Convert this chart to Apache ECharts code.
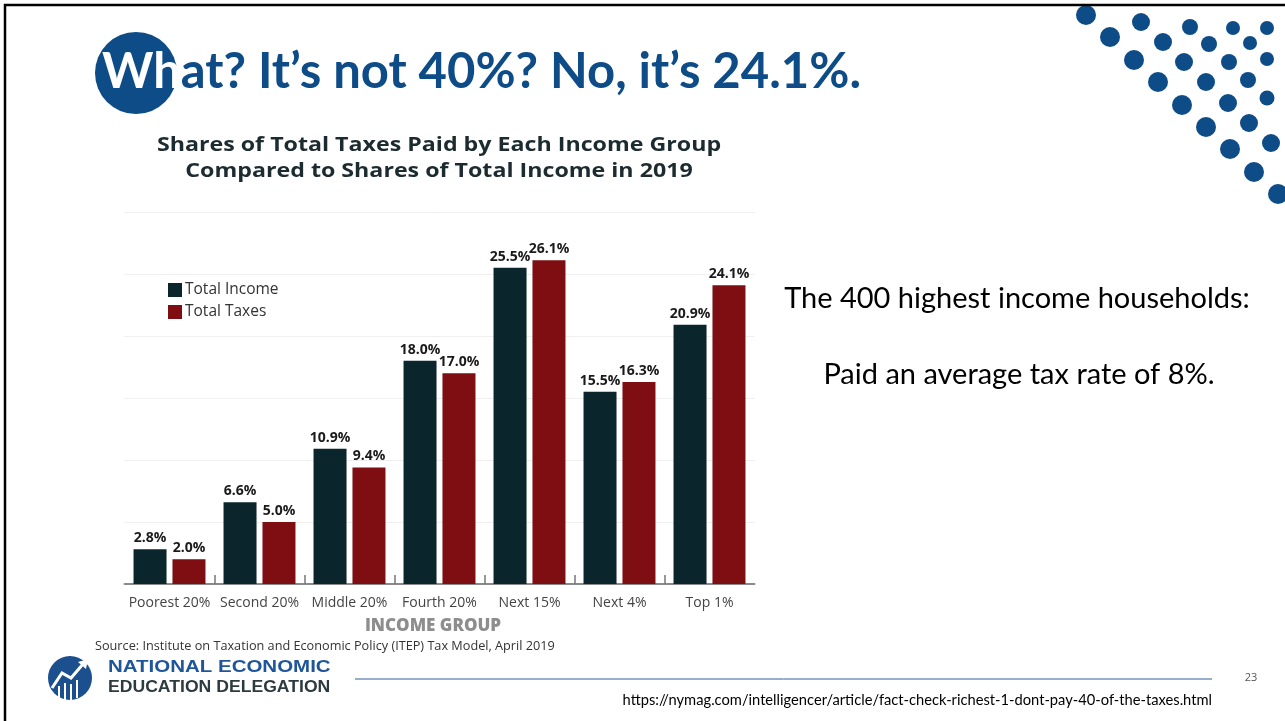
<!DOCTYPE html>
<html>
<head>
<meta charset="utf-8">
<style>
  html, body { margin: 0; padding: 0; background: #fff; }
  #chart { width: 1285px; height: 721px; }
</style>
<script src="https://cdn.jsdelivr.net/npm/echarts@6/dist/echarts.min.js"></script>
</head>
<body>
<div id="chart"></div>
<script>
// Income groups and their shares (%) of total income and total taxes, 2019
const categories = ['Poorest 20%', 'Second 20%', 'Middle 20%', 'Fourth 20%', 'Next 15%', 'Next 4%', 'Top 1%'];
const totalIncome = [2.8, 6.6, 10.9, 18.0, 25.5, 15.5, 20.9];
const totalTaxes  = [2.0, 5.0, 9.4, 17.0, 26.1, 16.3, 24.1];
const seriesNames = ['Total Income', 'Total Taxes'];

const BLUE = '#0e4c87';
const DARK = '#0b252c';
const RED = '#7e0e11';
const SANS = '"Open Sans", sans-serif';

// corner dot ornament: [cx, cy, r]
const dots = [
  [1086, 15, 10], [1141, 22, 9], [1190, 27, 8], [1233, 28, 7], [1267, 28, 7],
  [1110, 37, 10], [1163, 42, 9], [1209, 44, 8], [1250, 43, 7], [1267, 59, 7],
  [1134, 60, 10], [1184, 62, 9], [1229, 62, 8],
  [1158, 82, 10], [1206, 82, 9], [1248, 80, 8], [1267, 98, 7.5],
  [1182, 105, 10], [1228, 103, 9],
  [1206, 127, 10], [1249, 123, 9], [1271, 143, 9],
  [1230, 149, 10], [1254, 172, 10], [1278, 194, 10]
];

// category boundaries, used only to place the separator ticks on the baseline
const boundaries = categories.map((c, i) => String(i)).concat([String(categories.length)]);

const chart = echarts.init(document.getElementById('chart'), null, { renderer: 'canvas' });

const valueLabel = {
  show: true,
  position: 'top',
  distance: 4,
  formatter: p => p.value.toFixed(1) + '%',
  fontFamily: SANS,
  fontWeight: 'bold',
  fontSize: 14,
  color: '#1a1a1a'
};

function centeredText(x, y, text, font, fill, scaleX, align) {
  return {
    type: 'text', x: x, y: y, scaleX: scaleX || 1,
    style: { text: text, font: font, fill: fill, textAlign: align || 'center', textVerticalAlign: 'middle' }
  };
}

const graphics = [
  // slide frame
  { type: 'rect', shape: { x: 5, y: 5, width: 1400, height: 800 },
    style: { fill: 'none', stroke: '#000', lineWidth: 2.5 }, z: 10 },
  // heading badge
  { type: 'circle', shape: { cx: 136, cy: 73, r: 41 }, style: { fill: BLUE } },
  { type: 'text', x: 102, y: 72,
    style: {
      text: '{w|Wh}{b|at? It’s not 40%? No, it’s 24.1%.}',
      textVerticalAlign: 'middle',
      rich: {
        w: { fill: '#fff', fontFamily: 'Lato, sans-serif', fontWeight: 'bold', fontSize: 49 },
        b: { fill: BLUE, fontFamily: 'Lato, sans-serif', fontWeight: 'bold', fontSize: 49 }
      }
    } },
  // chart heading
  centeredText(439, 145, 'Shares of Total Taxes Paid by Each Income Group', 'bold 20px "Open Sans", sans-serif', '#1c2b30', 1.16),
  centeredText(439, 171, 'Compared to Shares of Total Income in 2019', 'bold 20px "Open Sans", sans-serif', '#1c2b30', 1.16),
  // axis caption and source
  centeredText(433, 626, 'INCOME GROUP', '800 17px "Open Sans", sans-serif', '#8d8d8d'),
  centeredText(95, 646, 'Source: Institute on Taxation and Economic Policy (ITEP) Tax Model, April 2019',
    '12.7px "Open Sans", sans-serif', '#333', 1, 'left'),
  // side notes
  centeredText(1017, 299, 'The 400 highest income households:', '29px Lato, sans-serif', '#000'),
  centeredText(1019, 375, 'Paid an average tax rate of 8%.', '29px Lato, sans-serif', '#000'),
  // footer
  { type: 'line', shape: { x1: 355, y1: 679, x2: 1212, y2: 679 }, style: { stroke: '#2f5f98', lineWidth: 1 } },
  centeredText(1251, 678, '23', '11px "Open Sans", sans-serif', '#555'),
  centeredText(1212, 700, 'https://nymag.com/intelligencer/article/fact-check-richest-1-dont-pay-40-of-the-taxes.html',
    '14.7px Lato, sans-serif', '#000', 1, 'right'),
  { type: 'text', x: 108, y: 668, scaleX: 1.28,
    style: { text: 'NATIONAL ECONOMIC', fill: '#1f559a', font: 'bold 16px "Liberation Sans", Arial, sans-serif',
      textAlign: 'left', textVerticalAlign: 'middle' } },
  { type: 'text', x: 108, y: 688, scaleX: 1.1,
    style: { text: 'EDUCATION DELEGATION', fill: '#2d3a40', font: 'bold 16px "Liberation Sans", Arial, sans-serif',
      textAlign: 'left', textVerticalAlign: 'middle' } },
  // logo emblem
  { type: 'circle', shape: { cx: 70, cy: 678, r: 22 }, style: { fill: '#1b4f8e' } },
  { type: 'polyline', shape: { points: [[52, 688], [62, 673], [71, 678], [83, 664]] },
    style: { stroke: '#fff', lineWidth: 3, fill: 'none' } },
  { type: 'polygon', shape: { points: [[78, 662], [88, 659], [86, 669]] }, style: { fill: '#fff' } },
  { type: 'rect', shape: { x: 58, y: 686, width: 2, height: 13 }, style: { fill: '#fff' } },
  { type: 'rect', shape: { x: 64, y: 683, width: 2, height: 17 }, style: { fill: '#fff' } },
  { type: 'rect', shape: { x: 70, y: 684, width: 2, height: 16 }, style: { fill: '#fff' } },
  { type: 'rect', shape: { x: 76, y: 680, width: 2, height: 18 }, style: { fill: '#fff' } }
];

dots.forEach(d => graphics.push({
  type: 'circle', shape: { cx: d[0], cy: d[1], r: d[2] }, style: { fill: BLUE }
}));

chart.setOption({
  animation: false,
  backgroundColor: '#fff',
  textStyle: { fontFamily: SANS },
  grid: { left: 124.5, right: 530.5, top: 212, bottom: 137, containLabel: false },
  legend: {
    orient: 'vertical',
    left: 163, top: 277,
    itemWidth: 14, itemHeight: 14, itemGap: 6,
    icon: 'rect',
    textStyle: { fontFamily: SANS, fontSize: 15.5, color: '#333', padding: [0, 0, 0, -2] },
    data: seriesNames
  },
  xAxis: [{
    type: 'category',
    data: categories,
    boundaryGap: true,
    axisLine: { lineStyle: { color: '#8a8a8a', width: 2 } },
    axisTick: { show: false },
    axisLabel: { fontFamily: SANS, fontSize: 14, color: '#444', margin: 12, interval: 0 }
  }, {
    // separator ticks between groups
    type: 'category',
    data: boundaries,
    boundaryGap: false,
    position: 'bottom',
    axisLine: { show: false },
    axisLabel: { show: false },
    axisTick: {
      show: true, inside: true, length: 9,
      interval: (idx) => idx > 0 && idx < categories.length,
      lineStyle: { color: '#777', width: 1.5 }
    },
    splitLine: { show: false }
  }],
  yAxis: {
    type: 'value',
    min: 0, max: 30, interval: 5,
    axisLine: { show: false },
    axisTick: { show: false },
    axisLabel: { show: false },
    splitLine: { lineStyle: { color: '#efefef', width: 1 } }
  },
  series: [
    { name: seriesNames[0], type: 'bar', data: totalIncome, barWidth: 33, barGap: '18%',
      itemStyle: { color: DARK }, label: valueLabel },
    { name: seriesNames[1], type: 'bar', data: totalTaxes, barWidth: 33,
      itemStyle: { color: RED }, label: valueLabel }
  ],
  graphic: graphics
});
</script>
</body>
</html>
